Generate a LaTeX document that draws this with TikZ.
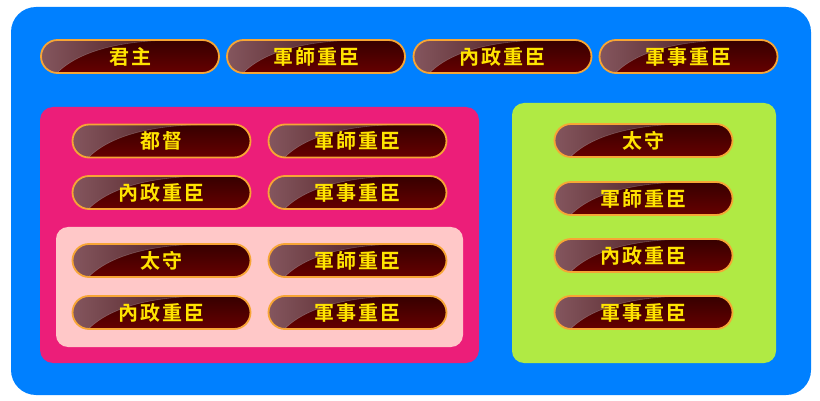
\documentclass[tikz,border=0pt]{standalone}
\usepackage{fontspec}
\newfontfamily\cjk[LetterSpace=10]{Noto Sans CJK TC Bold}
\usetikzlibrary{shapes.misc}
\definecolor{bgblue}{HTML}{0080FF}
\definecolor{pinkbox}{HTML}{EC1E79}
\definecolor{lightpink}{HTML}{FFC8C8}
\definecolor{greenbox}{HTML}{B0EA44}
\definecolor{btntop}{HTML}{360000}
\definecolor{btnbot}{HTML}{660000}
\definecolor{glossL}{HTML}{84565E}
\definecolor{glossR}{HTML}{300000}
\definecolor{btnborder}{HTML}{F7A535}
\definecolor{btntext}{HTML}{FFE400}
\tikzset{
  btn/.style={rounded rectangle, minimum width=178pt, minimum height=33pt,
    inner sep=0pt, draw=btnborder, line width=1.8pt,
    top color=btntop, bottom color=btnbot,
    text=btntext, font=\cjk\fontsize{20}{20}\selectfont,
    path picture={
      \shade[left color=glossL, right color=glossR]
        (path picture bounding box.north west) -- (path picture bounding box.south west)
        -- ([xshift=16pt]path picture bounding box.south west)
        .. controls ([xshift=38pt,yshift=22pt]path picture bounding box.south west)
        and ([xshift=80pt]path picture bounding box.north west)
        .. ([xshift=138pt]path picture bounding box.north west) -- cycle;
      \draw[white, opacity=0.2, line width=0.6pt]
        ([xshift=16pt]path picture bounding box.south west)
        .. controls ([xshift=38pt,yshift=22pt]path picture bounding box.south west)
        and ([xshift=80pt]path picture bounding box.north west)
        .. ([xshift=138pt]path picture bounding box.north west);
    }}
}
\begin{document}
\begin{tikzpicture}[x=1pt,y=-1pt]
\useasboundingbox (0,0) rectangle (820,401);
\fill[bgblue, rounded corners=25pt] (11,7) rectangle (811,395);
\fill[pinkbox, rounded corners=13pt] (40,107) rectangle (479,363);
\fill[lightpink, rounded corners=12pt] (56,227) rectangle (463,347);
\fill[greenbox, rounded corners=12pt] (512,103) rectangle (776,363);
% top row
\node[btn] (junzhu) at (130,56.5) {君主};
\node[btn] (junshiA) at (316,56.5) {軍師重臣};
\node[btn] (neizhengA) at (502.5,56.5) {內政重臣};
\node[btn] (junshiB) at (688.5,56.5) {軍事重臣};
% pink box
\node[btn] (dudu) at (161.5,141) {都督};
\node[btn] (junshiC) at (357.5,141) {軍師重臣};
\node[btn] (neizhengB) at (161.5,192.5) {內政重臣};
\node[btn] (junshiD) at (357.5,192.5) {軍事重臣};
% light pink box
\node[btn] (taishouA) at (161.5,260.5) {太守};
\node[btn] (junshiE) at (357.5,260.5) {軍師重臣};
\node[btn] (neizhengC) at (161.5,312.5) {內政重臣};
\node[btn] (junshiF) at (357.5,312.5) {軍事重臣};
% green box
\node[btn] (taishouB) at (643.5,140.5) {太守};
\node[btn] (junshiG) at (643.5,198.5) {軍師重臣};
\node[btn] (neizhengD) at (643.5,255.5) {內政重臣};
\node[btn] (junshiH) at (643.5,312.5) {軍事重臣};
\end{tikzpicture}
\end{document}
